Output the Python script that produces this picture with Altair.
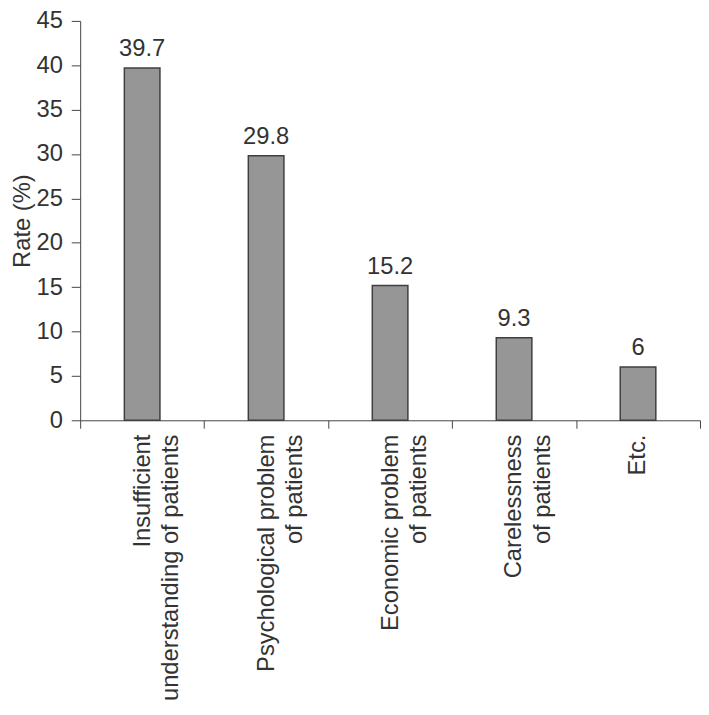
import altair as alt
import pandas as pd

categories = [
    "Insufficient|understanding of patients",
    "Psychological problem|of patients",
    "Economic problem|of patients",
    "Carelessness|of patients",
    "Etc.",
]
rates = [39.7, 29.8, 15.2, 9.3, 6]
y_ticks = [0, 5, 10, 15, 20, 25, 30, 35, 40, 45]

df = pd.DataFrame({"cause": categories, "rate": rates})

W, H = 627, 404
FONT = "Liberation Sans, Arial, Helvetica, sans-serif"
FS = 24
TXT = "#333333"
LINE = "#444444"

x = alt.X(
    "cause:N",
    sort=categories,
    scale=alt.Scale(paddingInner=0, paddingOuter=0),
    axis=alt.Axis(
        title=None,
        tickBand="extent",
        tickSize=8,
        tickColor=LINE,
        domainColor=LINE,
        labelAngle=270,
        labelAlign="right",
        labelBaseline="middle",
        labelPadding=6,
        labelFontSize=FS,
        labelLineHeight=29,
        labelLimit=0,
        labelColor=TXT,
        labelFont=FONT,
        labelExpr="split(datum.label, '|')",
        grid=False,
    ),
)
y = alt.Y(
    "rate:Q",
    scale=alt.Scale(domain=[0, 45], nice=False),
    axis=alt.Axis(
        title="Rate (%)",
        values=y_ticks,
        tickSize=9,
        tickColor=LINE,
        domainColor=LINE,
        labelPadding=9,
        labelFontSize=FS,
        labelColor=TXT,
        labelFont=FONT,
        titleFont=FONT,
        titleFontSize=FS,
        titleFontWeight="normal",
        titleColor=TXT,
        titleX=-58,
        titleY=H / 2,
        titleAngle=270,
        titleAlign="center",
        titleBaseline="middle",
        grid=False,
    ),
)

bars = alt.Chart(df).mark_bar(
    width=36, color="#969696", stroke="#3f3f3f", strokeWidth=1.5
).encode(x=x, y=y)

text = alt.Chart(df).mark_text(
    baseline="alphabetic", dy=-12, fontSize=FS, color=TXT, font=FONT
).encode(x=alt.X("cause:N", sort=categories), y="rate:Q", text=alt.Text("rate:Q"))

chart = (
    alt.layer(bars, text)
    .properties(
        width=W,
        height=H,
        autosize=alt.AutoSizeParams(type="none"),
        padding={"left": 73, "top": 9, "right": 1, "bottom": 290},
        background="white",
    )
    .configure_view(stroke=None)
)

chart.save("out.html", embed_options={"renderer": "svg", "actions": False})
